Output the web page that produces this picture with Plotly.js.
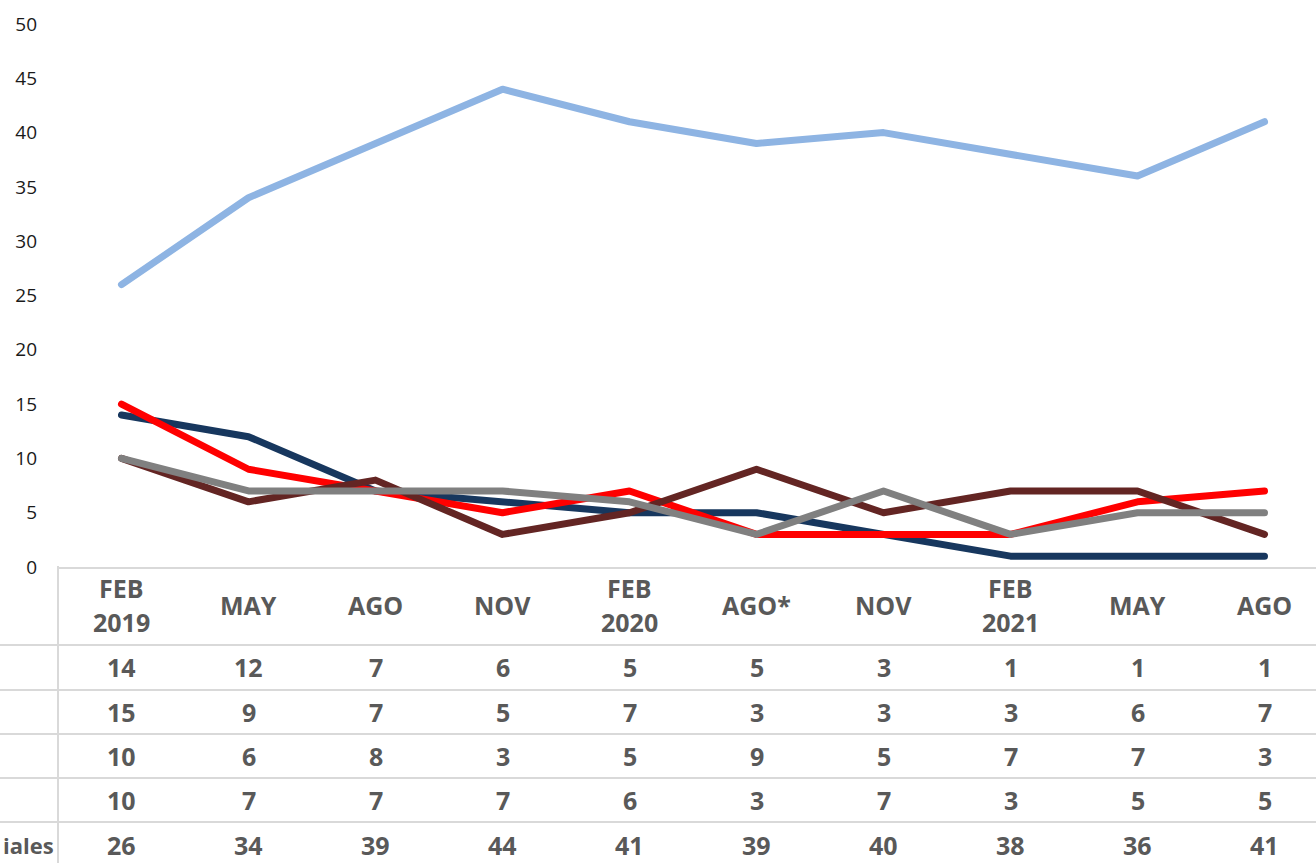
<!DOCTYPE html>
<html>
<head>
<meta charset="utf-8">
<script src="https://cdn.plot.ly/plotly-3.0.1.min.js"></script>
<style>
  html, body { margin: 0; padding: 0; background: #fff; }
  #chart { width: 1316px; height: 863px; }
  .js-line { stroke-linecap: round; stroke-linejoin: round; }
</style>
</head>
<body>
<div id="chart"></div>
<script>
// ---- data ----
const categories = ["FEB 2019", "MAY", "AGO", "NOV", "FEB 2020", "AGO*", "NOV", "FEB 2021", "MAY", "AGO"];
const headerTop = ["FEB", "", "", "", "FEB", "", "", "FEB", "", ""];
const headerBottom = ["2019", "", "", "", "2020", "", "", "2021", "", ""];
const headerSingle = ["", "MAY", "AGO", "NOV", "", "AGO*", "NOV", "", "MAY", "AGO"];
const seriesNames = ["Serie 1", "Serie 2", "Serie 3", "Serie 4", "iales"];
const serie1 = [14, 12, 7, 6, 5, 5, 3, 1, 1, 1];
const serie2 = [15, 9, 7, 5, 7, 3, 3, 3, 6, 7];
const serie3 = [10, 6, 8, 3, 5, 9, 5, 7, 7, 3];
const serie4 = [10, 7, 7, 7, 6, 3, 7, 3, 5, 5];
const serie5 = [26, 34, 39, 44, 41, 39, 40, 38, 36, 41];
const yTicks = [0, 5, 10, 15, 20, 25, 30, 35, 40, 45, 50];

// ---- styling ----
const colors = ["#17375E", "#FF0000", "#632523", "#808080", "#8EB4E3"];
const allSeries = [serie1, serie2, serie3, serie4, serie5];
const idx = categories.map((c, i) => i);

const traces = allSeries.map((vals, k) => ({
  type: "scatter",
  mode: "lines",
  x: idx,
  y: vals,
  name: seriesNames[k],
  line: { color: colors[k], width: 7 },
  hoverinfo: "skip"
}));

// layout geometry (pixels)
const W = 1316, H = 863;
const plotLeft = 58, plotTop = 24, plotBottom = 567;
const plotH = plotBottom - plotTop;
const plotW = W - plotLeft;
const colW = 127;
const py = (ypx) => (plotBottom - ypx) / plotH;   // pixel -> paper y
const px = (xpx) => (xpx - plotLeft) / plotW;     // pixel -> paper x

const cellFont = { family: "Open Sans, sans-serif", size: 25, color: "#595959", weight: 700 };
const annotations = [];
idx.forEach(i => {
  if (headerSingle[i]) {
    annotations.push({ x: i, xref: "x", y: py(605), yref: "paper", text: "<b>" + headerSingle[i] + "</b>",
      showarrow: false, xanchor: "center", yanchor: "middle", font: cellFont });
  } else {
    annotations.push({ x: i, xref: "x", y: py(588), yref: "paper", text: "<b>" + headerTop[i] + "</b>",
      showarrow: false, xanchor: "center", yanchor: "middle", font: cellFont });
    annotations.push({ x: i, xref: "x", y: py(622), yref: "paper", text: "<b>" + headerBottom[i] + "</b>",
      showarrow: false, xanchor: "center", yanchor: "middle", font: cellFont });
  }
});
const rowY = [667, 712, 756, 800, 845];
allSeries.forEach((vals, k) => {
  vals.forEach((v, i) => {
    annotations.push({ x: i, xref: "x", y: py(rowY[k]), yref: "paper", text: "<b>" + v + "</b>",
      showarrow: false, xanchor: "center", yanchor: "middle", font: cellFont });
  });
});
// visible part of the last row label
annotations.push({ x: px(1), xref: "paper", y: py(845), yref: "paper", text: "<b>" + seriesNames[4] + "</b>",
  showarrow: false, xanchor: "left", yanchor: "middle",
  font: { family: "Open Sans, sans-serif", size: 22, color: "#595959", weight: 700 } });

const lineStyle = { color: "#D9D9D9", width: 2 };
const shapes = [];
[645, 690, 734, 778, 822].forEach(y => {
  shapes.push({ type: "line", xref: "paper", yref: "paper", x0: px(0), x1: px(W), y0: py(y), y1: py(y), line: lineStyle, layer: "below" });
});
shapes.push({ type: "line", xref: "paper", yref: "paper", x0: 0, x1: 0, y0: py(566), y1: py(H + 2), line: lineStyle, layer: "below" });

const layout = {
  width: W, height: H,
  margin: { l: plotLeft, r: 0, t: plotTop, b: H - plotBottom },
  paper_bgcolor: "#ffffff",
  plot_bgcolor: "#ffffff",
  showlegend: false,
  font: { family: "Open Sans, sans-serif" },
  xaxis: {
    type: "linear",
    range: [-0.5, -0.5 + plotW / colW],
    showgrid: false, zeroline: false,
    showline: true, linecolor: "#D9D9D9", linewidth: 2,
    showticklabels: false, ticks: ""
  },
  yaxis: {
    range: [0, 50],
    tickvals: yTicks,
    showgrid: false, zeroline: false, showline: false,
    ticks: "",
    ticklabelstandoff: 20,
    tickfont: { family: "Open Sans, sans-serif", size: 19, color: "#1a1a1a" }
  },
  annotations: annotations,
  shapes: shapes
};

Plotly.newPlot("chart", traces, layout, { staticPlot: true, displayModeBar: false });
</script>
</body>
</html>
